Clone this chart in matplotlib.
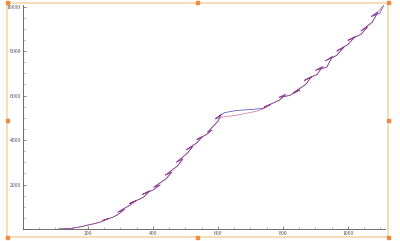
import matplotlib
matplotlib.use('Agg')
import matplotlib.pyplot as plt
from matplotlib.patches import Rectangle
from matplotlib.ticker import MultipleLocator

# Measured path (red) with its small back-and-forth loops
red_x = [110, 150, 185, 200, 220, 240, 262, 245, 275, 290, 312, 292, 330, 348, 328,
         360, 372, 390, 368, 400, 422, 402, 440, 458, 438, 475, 492, 472, 505, 522,
         502, 535, 552, 535, 565, 582, 568, 600, 610, 592, 620, 650, 690, 720, 740,
         762, 742, 790, 808, 788, 820, 852, 832, 870, 888, 866, 905, 922, 900, 935,
         952, 930, 965, 988, 966, 1000, 1022, 1000, 1040, 1060, 1040, 1075, 1092,
         1072, 1098, 1105]
red_y = [0, 30, 120, 180, 240, 320, 470, 380, 520, 630, 880, 760, 1080, 1280, 1150,
         1350, 1440, 1720, 1560, 1750, 1980, 1880, 2250, 2560, 2420, 2830, 3150, 3000,
         3400, 3700, 3560, 3870, 4150, 4020, 4250, 4450, 4350, 4850, 5150, 4950, 5050,
         5100, 5210, 5300, 5400, 5600, 5480, 5800, 6050, 5920, 6000, 6250, 6130, 6500,
         6850, 6680, 6950, 7300, 7130, 7280, 7750, 7560, 7800, 8180, 8000, 8300, 8650,
         8480, 8750, 9080, 8900, 9300, 9750, 9550, 9840, 10000]

# Second path (blue), same except the arc around x = 600..760
blue_x = red_x[:40] + [620, 658, 700, 738] + red_x[45:-1] + [1110]
blue_y = red_y[:40] + [5230, 5330, 5370, 5420] + red_y[45:-2] + [9700, 10050]

fig = plt.figure(figsize=(4, 2.41), dpi=100)
ax = fig.add_axes([23 / 400, 12 / 241, 362 / 400, 224 / 241])

ax.plot(blue_x, blue_y, color='#5050c0', lw=0.55)
ax.plot(red_x, red_y, color='#c03070', lw=0.55, alpha=0.65)

ax.set_xlim(0, 1114)
ax.set_ylim(0, 10070)

for s in ['top', 'right']:
    ax.spines[s].set_visible(False)
for s in ['left', 'bottom']:
    ax.spines[s].set_position(('data', 0))
    ax.spines[s].set_color('#555555')
    ax.spines[s].set_linewidth(0.6)

ax.set_xticks([200, 400, 600, 800, 1000])
ax.set_yticks([2000, 4000, 6000, 8000, 10000])
ax.xaxis.set_minor_locator(MultipleLocator(50))
ax.yaxis.set_minor_locator(MultipleLocator(500))
ax.tick_params(which='major', direction='in', length=2.5, width=0.5, color='#555555',
               labelsize=4, labelcolor='#444444', pad=1.5)
ax.tick_params(which='minor', direction='in', length=1.3, width=0.4, color='#777777')
for lab in ax.get_xticklabels() + ax.get_yticklabels():
    lab.set_family('Liberation Serif')

# orange selection frame with handles
x0, y0, x1, y1 = 7 / 400, 4 / 241, 388 / 400, 238 / 241
fig.patches.append(Rectangle((x0, y0), x1 - x0, y1 - y0, transform=fig.transFigure,
                             fill=False, edgecolor='#f3d7a8', lw=1.2))
hw, hh = 3 / 400, 3 / 241
for hx in [x0, (x0 + x1) / 2, x1]:
    for hy in [y0, (y0 + y1) / 2, y1]:
        if hx == (x0 + x1) / 2 and hy == (y0 + y1) / 2:
            continue
        fig.patches.append(Rectangle((hx - hw / 2, hy - hh / 2), hw, hh,
                                     transform=fig.transFigure, color='#f08a3c'))

fig.savefig('out.png', dpi=100)
